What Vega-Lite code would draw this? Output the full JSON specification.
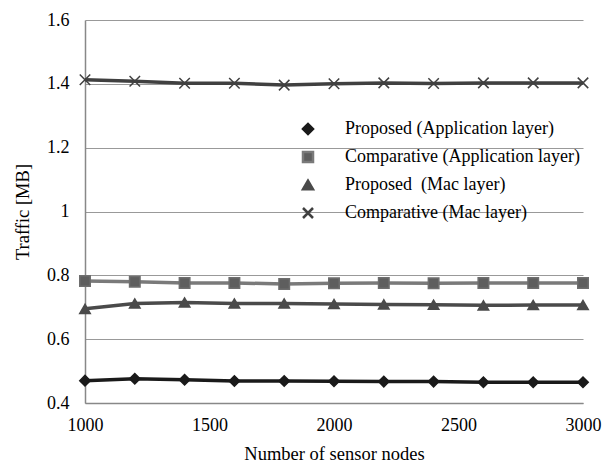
{
  "$schema": "https://vega.github.io/schema/vega-lite/v6.json",
  "width": 498,
  "height": 383,
  "autosize": {"type": "none"},
  "padding": {"left": 85, "top": 20, "right": 31, "bottom": 65},
  "background": "white",
  "config": {
    "font": "Liberation Serif, Times New Roman, serif",
    "view": {"stroke": null},
    "axis": {"labelFont": "Liberation Serif, Times New Roman, serif", "titleFont": "Liberation Serif, Times New Roman, serif", "labelColor": "#000", "titleColor": "#000", "titleFontWeight": "normal"},
    "legend": {
      "orient": "none", "legendX": 214, "legendY": 100,
      "labelFont": "Liberation Serif, Times New Roman, serif", "labelFontSize": 18, "labelColor": "#000",
      "rowPadding": 8, "symbolSize": 100, "labelOffset": 28, "symbolStrokeWidth": 2.5, "labelLimit": 400
    }
  },
  "data": {
    "values": [
      {"n": 1000, "s": "Proposed (Application layer)", "v": 0.470},
      {"n": 1200, "s": "Proposed (Application layer)", "v": 0.476},
      {"n": 1400, "s": "Proposed (Application layer)", "v": 0.473},
      {"n": 1600, "s": "Proposed (Application layer)", "v": 0.469},
      {"n": 1800, "s": "Proposed (Application layer)", "v": 0.469},
      {"n": 2000, "s": "Proposed (Application layer)", "v": 0.468},
      {"n": 2200, "s": "Proposed (Application layer)", "v": 0.467},
      {"n": 2400, "s": "Proposed (Application layer)", "v": 0.467},
      {"n": 2600, "s": "Proposed (Application layer)", "v": 0.465},
      {"n": 2800, "s": "Proposed (Application layer)", "v": 0.465},
      {"n": 3000, "s": "Proposed (Application layer)", "v": 0.465},
      {"n": 1000, "s": "Comparative (Application layer)", "v": 0.782},
      {"n": 1200, "s": "Comparative (Application layer)", "v": 0.780},
      {"n": 1400, "s": "Comparative (Application layer)", "v": 0.776},
      {"n": 1600, "s": "Comparative (Application layer)", "v": 0.776},
      {"n": 1800, "s": "Comparative (Application layer)", "v": 0.773},
      {"n": 2000, "s": "Comparative (Application layer)", "v": 0.775},
      {"n": 2200, "s": "Comparative (Application layer)", "v": 0.776},
      {"n": 2400, "s": "Comparative (Application layer)", "v": 0.775},
      {"n": 2600, "s": "Comparative (Application layer)", "v": 0.776},
      {"n": 2800, "s": "Comparative (Application layer)", "v": 0.776},
      {"n": 3000, "s": "Comparative (Application layer)", "v": 0.776},
      {"n": 1000, "s": "Proposed\u00a0 (Mac layer)", "v": 0.695},
      {"n": 1200, "s": "Proposed\u00a0 (Mac layer)", "v": 0.712},
      {"n": 1400, "s": "Proposed\u00a0 (Mac layer)", "v": 0.715},
      {"n": 1600, "s": "Proposed\u00a0 (Mac layer)", "v": 0.712},
      {"n": 1800, "s": "Proposed\u00a0 (Mac layer)", "v": 0.712},
      {"n": 2000, "s": "Proposed\u00a0 (Mac layer)", "v": 0.710},
      {"n": 2200, "s": "Proposed\u00a0 (Mac layer)", "v": 0.709},
      {"n": 2400, "s": "Proposed\u00a0 (Mac layer)", "v": 0.708},
      {"n": 2600, "s": "Proposed\u00a0 (Mac layer)", "v": 0.706},
      {"n": 2800, "s": "Proposed\u00a0 (Mac layer)", "v": 0.707},
      {"n": 3000, "s": "Proposed\u00a0 (Mac layer)", "v": 0.707},
      {"n": 1000, "s": "Comparative (Mac layer)", "v": 1.413},
      {"n": 1200, "s": "Comparative (Mac layer)", "v": 1.408},
      {"n": 1400, "s": "Comparative (Mac layer)", "v": 1.402},
      {"n": 1600, "s": "Comparative (Mac layer)", "v": 1.402},
      {"n": 1800, "s": "Comparative (Mac layer)", "v": 1.396},
      {"n": 2000, "s": "Comparative (Mac layer)", "v": 1.400},
      {"n": 2200, "s": "Comparative (Mac layer)", "v": 1.403},
      {"n": 2400, "s": "Comparative (Mac layer)", "v": 1.401},
      {"n": 2600, "s": "Comparative (Mac layer)", "v": 1.403},
      {"n": 2800, "s": "Comparative (Mac layer)", "v": 1.403},
      {"n": 3000, "s": "Comparative (Mac layer)", "v": 1.403}
    ]
  },
  "encoding": {
    "x": {
      "field": "n", "type": "quantitative",
      "scale": {"domain": [1000, 3000], "nice": false, "zero": false},
      "axis": {"values": [1000, 1500, 2000, 2500, 3000], "format": "d", "title": "Number of sensor nodes", "grid": false, "ticks": false, "domainColor": "#888", "domainWidth": 1.5, "labelFontSize": 18, "titleFontSize": 18.5, "labelPadding": 13, "titlePadding": 10, "labelFlush": false}
    },
    "y": {
      "field": "v", "type": "quantitative",
      "scale": {"domain": [0.4, 1.6], "nice": false, "zero": false},
      "axis": {"values": [0.4, 0.6, 0.8, 1.0, 1.2, 1.4, 1.6], "format": "~g", "title": "Traffic [MB]", "grid": true, "gridColor": "#999", "gridWidth": 1, "ticks": false, "domainColor": "#888", "domainWidth": 1.5, "labelFontSize": 18, "titleFontSize": 18.5, "labelPadding": 16, "titlePadding": 14, "labelFlush": false}
    }
  },
  "layer": [
    {
      "mark": {"type": "line", "strokeWidth": 3.5},
      "encoding": {
        "color": {
          "field": "s", "type": "nominal",
          "scale": {"domain": ["Proposed (Application layer)", "Comparative (Application layer)", "Proposed\u00a0 (Mac layer)", "Comparative (Mac layer)"], "range": ["#1a1a1a", "#7a7a7a", "#4a4a4a", "#404040"]},
          "legend": {"title": null}
        }
      }
    },
    {
      "mark": {"type": "point", "filled": true, "opacity": 1, "strokeWidth": 1.5},
      "encoding": {
        "fill": {
          "field": "s", "type": "nominal",
          "scale": {"domain": ["Proposed (Application layer)", "Comparative (Application layer)", "Proposed\u00a0 (Mac layer)", "Comparative (Mac layer)"], "range": ["#1a1a1a", "#5e5e5e", "#4a4a4a", "#404040"]},
          "legend": {"title": null}
        },
        "stroke": {
          "field": "s", "type": "nominal",
          "scale": {"domain": ["Proposed (Application layer)", "Comparative (Application layer)", "Proposed\u00a0 (Mac layer)", "Comparative (Mac layer)"], "range": ["#1a1a1a", "#6e6e6e", "#4a4a4a", "#404040"]},
          "legend": {"title": null}
        },
        "shape": {
          "field": "s", "type": "nominal",
          "scale": {"domain": ["Proposed (Application layer)", "Comparative (Application layer)", "Proposed\u00a0 (Mac layer)", "Comparative (Mac layer)"], "range": ["diamond", "square", "triangle-up", "M-1,-1L1,1M-1,1L1,-1"]},
          "legend": {"title": null}
        },
        "size": {"value": 110}
      }
    }
  ]
}
